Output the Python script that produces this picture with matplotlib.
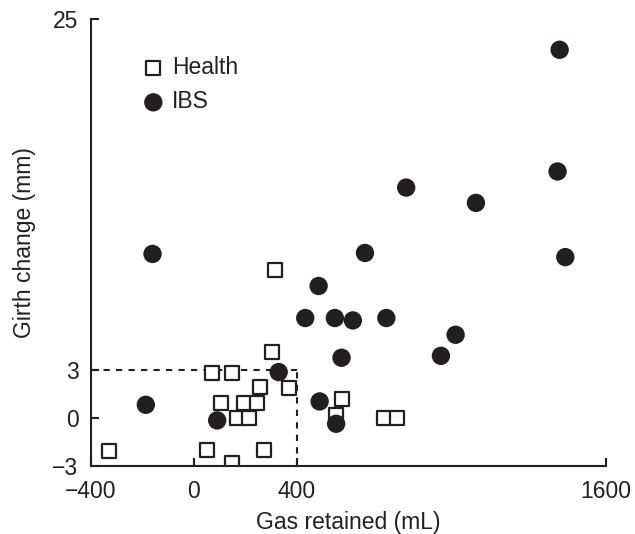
import numpy as np
import matplotlib.pyplot as plt

plt.rcParams['font.family'] = ['Liberation Sans', 'DejaVu Sans']

ink = '#231f20'

# Health (open squares)
health_gas = [315, 304, 68, 148, 258, 370, 106, 193, 245, 168, 214,
              574, 551, 738, 789, -330, 52, 271, 147]
health_girth = [9.32, 4.17, 2.85, 2.85, 1.95, 1.91, 0.97, 0.97, 0.97, 0.03, 0.03,
                1.19, 0.17, 0.0, 0.0, -2.05, -1.98, -1.97, -2.78]

# IBS (filled circles)
ibs_gas = [-161, -187, 90, 329, 488, 552, 573, 432, 547, 617, 747,
           484, 664, 824, 1095, 959, 1016, 1412, 1420, 1442]
ibs_girth = [10.3, 0.84, -0.14, 2.89, 1.05, -0.35, 3.79, 6.28, 6.28, 6.13, 6.28,
             8.29, 10.36, 14.46, 13.5, 3.91, 5.23, 15.47, 23.1, 10.1]

x_ticks = [-400, 0, 400, 1600]
x_ticklabels = ['\u2212400', '0', '400', '1600']
y_ticks = [-3, 0, 3, 25]
y_ticklabels = ['\u22123', '0', '3', '25']

fs = 16.5

fig = plt.figure(figsize=(6.35, 5.34), dpi=100)
ax = fig.add_axes([0.1433, 0.1273, 0.811, 0.8362])

# threshold box
ax.plot([-400, 400], [3, 3], ls=(0, (3, 3)), color=ink, lw=1.5, zorder=1)
ax.plot([400, 400], [-3, 3], ls=(0, (3, 3)), color=ink, lw=1.5, zorder=1)

ax.scatter(health_gas, health_girth, marker='s', s=105, facecolor='white',
           edgecolor=ink, linewidth=1.6, label='Health', zorder=2)
ax.scatter(ibs_gas, ibs_girth, marker='o', s=175, facecolor=ink,
           edgecolor='none', label='IBS', zorder=3)

ax.set_xlim(-400, 1600)
ax.set_ylim(-3, 25)
ax.set_xticks(x_ticks)
ax.set_xticklabels(x_ticklabels)
ax.set_yticks(y_ticks)
ax.set_yticklabels(y_ticklabels)

for s in ['top', 'right']:
    ax.spines[s].set_visible(False)
for s in ['left', 'bottom']:
    ax.spines[s].set_linewidth(1.5)
    ax.spines[s].set_color(ink)
ax.tick_params(direction='in', length=6, width=1.5, color=ink,
               labelsize=fs, labelcolor=ink)
ax.tick_params(axis='x', pad=10)
ax.tick_params(axis='y', pad=9)

ax.set_xlabel('Gas retained (mL)', fontsize=fs, color=ink, labelpad=6)
ax.set_ylabel('Girth change (mm)', fontsize=fs, color=ink, labelpad=12)

leg = ax.legend(loc='upper left', bbox_to_anchor=(0.081, 0.938), frameon=False,
                fontsize=fs, handlelength=1.0, handletextpad=0.33,
                labelspacing=0.48, borderaxespad=0, scatterpoints=1)
for t in leg.get_texts():
    t.set_color(ink)

fig.savefig('out.png', dpi=100)
